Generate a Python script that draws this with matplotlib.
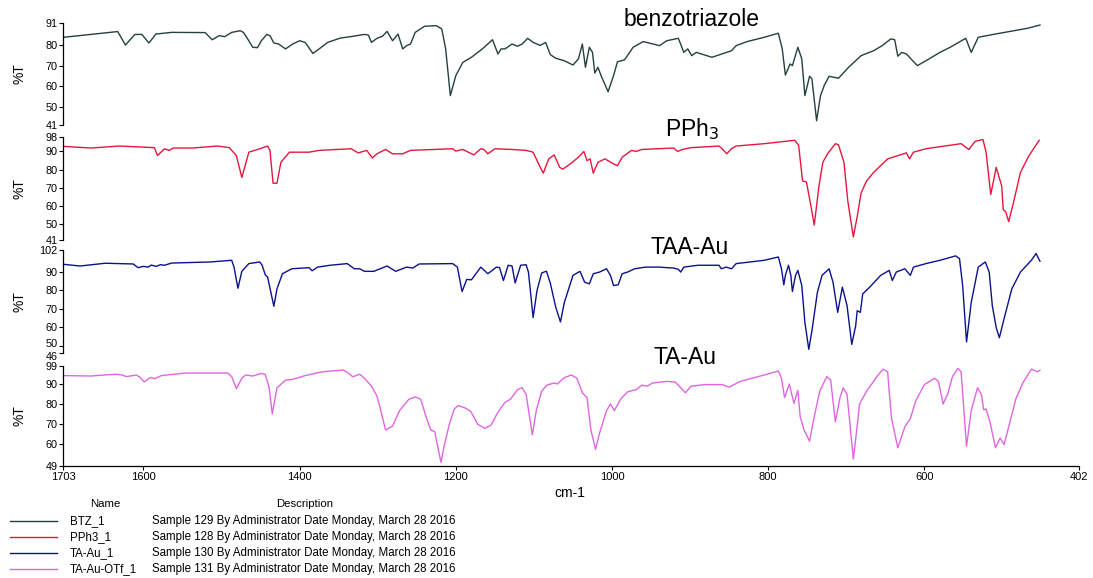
import matplotlib
matplotlib.use('Agg')
import matplotlib.pyplot as plt
import matplotlib.transforms as mtransforms
from matplotlib.lines import Line2D

plt.rcParams['font.family'] = ['Liberation Sans', 'DejaVu Sans']

# ---- data (wavenumber cm-1, %T) ----
btz_wn = [1702, 1633, 1623, 1611, 1602, 1593, 1584, 1564, 1521, 1512, 1503, 1496, 1487, 1476, 1472,
          1467, 1460, 1454, 1449, 1442, 1438, 1433, 1427, 1418, 1409, 1400, 1393, 1383, 1375, 1364,
          1348, 1335, 1317, 1312, 1308, 1301, 1294, 1288, 1281, 1274, 1268, 1263, 1258, 1252, 1240,
          1225, 1218, 1213, 1207, 1200, 1191, 1180, 1166, 1153, 1146, 1142, 1137, 1128, 1121, 1115,
          1108, 1101, 1092, 1085, 1079, 1072, 1061, 1050, 1043, 1038, 1034, 1029, 1025, 1022, 1018,
          1014, 1005, 998, 993, 984, 973, 960, 939, 930, 915, 908, 903, 898, 892, 872,
          847, 841, 827, 805, 787, 782, 778, 772, 769, 762, 757, 753, 747, 744, 738,
          733, 728, 722, 710, 697, 681, 665, 654, 643, 638, 634, 629, 623, 609, 598,
          580, 567, 547, 540, 531, 509, 486, 468, 452]
btz_t = [84.0, 86.8, 80.2, 85.4, 85.4, 81.2, 85.6, 86.4, 86.3, 82.8, 84.8, 84.3, 86.4, 87.2, 86.4,
         83.5, 79.1, 78.9, 82.3, 85.4, 84.8, 81.2, 80.7, 78.3, 80.7, 82.3, 81.5, 76.1, 78.3, 81.5,
         83.6, 84.3, 85.4, 85.1, 81.5, 83.5, 84.5, 86.9, 82.3, 85.6, 78.3, 79.9, 80.7, 86.4, 89.4,
         89.7, 88.1, 78.3, 55.4, 65.2, 71.7, 74.2, 78.3, 82.8, 75.8, 78.3, 78.3, 80.7, 79.6, 80.7,
         83.5, 81.5, 80.0, 81.5, 75.5, 73.7, 72.5, 70.4, 73.4, 80.7, 69.3, 79.1, 76.6, 66.5, 69.3,
         65.2, 57.3, 65.2, 72.0, 72.9, 79.1, 81.9, 79.9, 82.3, 83.5, 76.6, 78.3, 75.0, 76.6, 74.2,
         77.4, 79.9, 81.9, 84.0, 86.0, 78.3, 65.5, 70.9, 70.1, 79.1, 73.4, 55.4, 64.9, 63.6, 43.1,
         55.4, 60.6, 64.9, 63.9, 69.3, 75.0, 77.4, 79.9, 83.2, 82.8, 74.7, 76.6, 75.8, 70.1, 72.5,
         76.6, 79.1, 83.5, 76.6, 84.0, 85.6, 87.2, 88.4, 90.0]

pph3_wn = [1702, 1667, 1631, 1586, 1582, 1573, 1567, 1562, 1537, 1505, 1490, 1481, 1474, 1465, 1451,
           1441, 1438, 1434, 1429, 1424, 1413, 1388, 1375, 1334, 1325, 1314, 1307, 1301, 1290, 1281,
           1268, 1258, 1204, 1200, 1191, 1177, 1168, 1164, 1159, 1150, 1128, 1110, 1101, 1094, 1088,
           1081, 1074, 1067, 1063, 1052, 1043, 1036, 1032, 1028, 1024, 1018, 1009, 998, 993, 987,
           975, 969, 962, 921, 916, 910, 899, 863, 859, 853, 847, 841, 805, 766, 761,
           756, 751, 746, 741, 735, 730, 724, 714, 710, 703, 698, 691, 686, 681, 674,
           665, 647, 623, 619, 614, 598, 553, 543, 535, 525, 521, 515, 508, 501, 499,
           496, 492, 486, 477, 466, 453]
pph3_t = [92.8, 91.9, 93.0, 92.1, 87.7, 91.5, 90.6, 91.9, 91.9, 93.0, 92.1, 87.7, 75.6, 89.6, 91.5,
          93.0, 90.6, 72.4, 72.4, 84.0, 89.6, 89.6, 90.6, 91.5, 89.2, 90.6, 86.4, 88.7, 91.1, 88.7,
          88.7, 90.6, 91.5, 90.2, 91.1, 88.1, 91.5, 91.1, 88.7, 91.5, 91.1, 90.6, 89.6, 83.1, 78.0,
          85.9, 88.1, 81.2, 80.2, 83.6, 86.8, 90.0, 84.9, 85.9, 78.0, 84.0, 85.9, 83.1, 82.1, 86.8,
          90.6, 90.0, 91.1, 91.9, 90.0, 91.1, 92.1, 93.0, 91.5, 88.7, 91.5, 93.0, 94.3, 96.2, 93.4,
          73.7, 73.1, 61.5, 49.3, 70.9, 84.0, 88.7, 94.3, 93.7, 84.0, 62.4, 42.7, 54.0, 67.1, 73.7,
          78.4, 85.9, 89.2, 85.9, 89.6, 91.5, 94.3, 91.1, 95.6, 96.6, 89.6, 66.2, 81.2, 70.9, 57.7,
          56.8, 51.2, 61.5, 78.4, 87.7, 96.2]

taau_wn = [1702, 1681, 1649, 1613, 1607, 1600, 1594, 1590, 1584, 1578, 1573, 1564, 1514, 1487, 1484,
           1479, 1474, 1465, 1451, 1448, 1444, 1441, 1433, 1429, 1422, 1410, 1388, 1384, 1377, 1361,
           1339, 1330, 1323, 1317, 1305, 1288, 1277, 1263, 1255, 1247, 1204, 1198, 1192, 1186, 1180,
           1168, 1159, 1148, 1144, 1139, 1133, 1128, 1124, 1117, 1110, 1107, 1101, 1096, 1090, 1084,
           1079, 1072, 1066, 1061, 1050, 1041, 1035, 1029, 1024, 1016, 1007, 1002, 998, 992, 987,
           980, 971, 957, 939, 930, 921, 915, 912, 908, 890, 863, 860, 854, 847, 841,
           805, 787, 783, 780, 778, 774, 771, 769, 765, 762, 757, 753, 748, 744, 737,
           731, 722, 717, 711, 705, 699, 693, 688, 686, 682, 679, 670, 656, 645, 641,
           636, 625, 618, 614, 598, 580, 560, 555, 551, 546, 540, 531, 522, 517, 513,
           508, 504, 497, 488, 477, 463, 457, 452]
taau_t = [94.2, 93.3, 94.8, 94.4, 92.4, 93.1, 92.7, 93.8, 93.1, 94.0, 93.7, 94.9, 95.5, 96.4, 92.7,
          81.2, 90.4, 94.6, 95.5, 93.7, 88.5, 87.3, 71.4, 80.9, 89.1, 91.8, 92.4, 90.7, 92.7, 93.7,
          94.6, 91.8, 91.8, 90.4, 90.4, 93.3, 90.4, 92.7, 92.2, 94.4, 94.6, 92.7, 79.4, 86.0, 85.8,
          92.7, 89.1, 92.7, 92.4, 85.4, 93.7, 93.3, 84.1, 93.7, 94.0, 90.0, 65.3, 80.0, 89.5, 90.5,
          84.0, 70.8, 62.9, 73.5, 88.2, 90.4, 84.5, 83.6, 89.1, 90.0, 91.8, 88.2, 82.7, 83.1, 89.1,
          90.0, 91.8, 92.7, 92.7, 92.4, 92.2, 91.5, 90.0, 92.7, 93.7, 93.7, 91.8, 92.7, 91.8, 94.6,
          96.4, 98.2, 91.8, 83.1, 88.2, 93.7, 88.2, 79.4, 88.2, 90.9, 82.7, 62.6, 48.0, 58.0, 79.0,
          88.2, 91.8, 84.5, 68.1, 81.8, 71.7, 50.7, 60.7, 69.0, 68.1, 78.1, 81.8, 88.2, 90.9, 85.4,
          90.0, 91.8, 88.2, 92.7, 94.6, 96.4, 98.8, 97.3, 82.7, 52.0, 73.5, 92.7, 95.5, 90.0, 71.7,
          59.8, 54.3, 66.2, 80.9, 90.0, 96.4, 100.1, 95.9]

taotf_wn = [1702, 1667, 1636, 1627, 1622, 1609, 1604, 1599, 1593, 1589, 1586, 1577, 1546, 1492, 1487,
            1481, 1474, 1469, 1460, 1449, 1444, 1439, 1435, 1429, 1418, 1409, 1393, 1371, 1344, 1337,
            1332, 1323, 1317, 1308, 1301, 1296, 1290, 1281, 1272, 1260, 1252, 1245, 1238, 1232, 1227,
            1219, 1215, 1208, 1202, 1197, 1188, 1181, 1172, 1163, 1155, 1146, 1137, 1130, 1121, 1115,
            1110, 1102, 1097, 1090, 1083, 1074, 1070, 1061, 1052, 1045, 1038, 1032, 1027, 1021, 1016,
            1007, 1002, 997, 989, 980, 969, 962, 955, 948, 930, 919, 912, 906, 899, 881,
            859, 850, 836, 805, 787, 783, 779, 773, 767, 762, 759, 754, 747, 742, 734,
            725, 720, 714, 708, 704, 699, 691, 688, 683, 674, 665, 661, 653, 647, 645,
            642, 634, 625, 618, 611, 600, 587, 582, 576, 570, 564, 557, 553, 546, 540,
            532, 527, 524, 521, 516, 509, 503, 498, 492, 483, 474, 463, 455, 452]
taotf_t = [94.2, 94.0, 94.9, 94.5, 93.7, 94.5, 93.2, 91.0, 92.9, 93.2, 92.6, 94.2, 95.5, 95.5, 93.7,
           87.7, 92.9, 94.5, 94.0, 95.3, 94.8, 88.1, 75.1, 88.1, 91.9, 92.3, 94.2, 96.1, 97.0, 95.3,
           93.6, 94.9, 92.9, 88.9, 84.0, 76.7, 67.0, 69.0, 76.7, 82.4, 83.5, 82.4, 73.5, 67.0, 66.2,
           50.8, 58.9, 70.3, 77.5, 79.2, 78.0, 76.4, 69.9, 67.8, 69.4, 75.9, 80.8, 82.4, 87.2, 88.1,
           84.8, 64.6, 76.7, 86.5, 89.5, 90.5, 90.0, 93.2, 94.5, 92.9, 85.6, 83.2, 67.0, 57.3, 65.4,
           76.7, 80.0, 76.7, 82.4, 86.1, 87.2, 89.4, 88.9, 90.5, 91.3, 91.0, 88.1, 85.6, 88.9, 89.7,
           89.7, 88.4, 91.3, 94.5, 96.5, 92.9, 83.2, 90.0, 80.3, 86.8, 73.5, 67.0, 61.4, 71.9, 86.4,
           93.7, 92.1, 71.1, 83.2, 88.1, 84.8, 52.5, 62.2, 80.0, 86.4, 91.3, 93.7, 97.4, 96.1, 86.0,
           72.7, 58.1, 68.6, 72.7, 81.6, 89.7, 92.9, 91.3, 80.0, 85.2, 93.7, 97.8, 96.1, 58.9, 76.7,
           88.1, 84.8, 77.1, 77.5, 71.1, 58.1, 63.0, 59.7, 68.6, 82.4, 90.5, 97.4, 96.1, 96.9]

titles = ['benzotriazole', 'PPh$_3$', 'TAA-Au', 'TA-Au']
ylims = [(41, 91), (41, 98), (46, 102), (49, 99)]
yticks = [[41, 50, 60, 70, 80, 91],
          [41, 50, 60, 70, 80, 90, 98],
          [46, 50, 60, 70, 80, 90, 102],
          [49, 60, 70, 80, 90, 99]]
xticks = [1703, 1600, 1400, 1200, 1000, 800, 600, 402]

names = ['BTZ_1', 'PPh3_1', 'TA-Au_1', 'TA-Au-OTf_1']
descs = ['Sample 129 By Administrator Date Monday, March 28 2016',
         'Sample 128 By Administrator Date Monday, March 28 2016',
         'Sample 130 By Administrator Date Monday, March 28 2016',
         'Sample 131 By Administrator Date Monday, March 28 2016']
colors = ['#244040', '#e5173f', '#0c128c', '#e066e0']

W, H = 1093, 578
fig = plt.figure(figsize=(W / 100, H / 100), dpi=100)

# panel extents in pixels (top, bottom)
panels = [(23, 125), (137, 240), (250, 353), (366, 466)]
title_pos = [(692, 20), (692, 129), (690, 248), (685, 357)]
x0, x1 = 63, 1079

series = [(btz_wn, btz_t), (pph3_wn, pph3_t), (taau_wn, taau_t), (taotf_wn, taotf_t)]

for i, (top, bot) in enumerate(panels):
    ax = fig.add_axes([x0 / W, 1 - bot / H, (x1 - x0) / W, (bot - top) / H])
    ax.patch.set_alpha(0)
    wn, t = series[i]
    ax.plot(wn, t, color=colors[i], lw=1.0)
    ax.set_xlim(1703, 402)
    ax.set_ylim(*ylims[i])
    ax.set_yticks(yticks[i])
    ax.tick_params(axis='y', direction='out', length=3, width=0.8, labelsize=7.8, pad=1)
    for s in ['top', 'right']:
        ax.spines[s].set_visible(False)
    ax.spines['left'].set_linewidth(0.9)
    if i < 3:
        ax.spines['bottom'].set_visible(False)
        ax.set_xticks([])
    else:
        ax.spines['bottom'].set_linewidth(0.9)
        ax.set_xticks(xticks)
        ax.set_xticklabels([str(v) for v in xticks])
        ax.tick_params(axis='x', direction='out', length=3, width=0.8, labelsize=8, pad=1)
    if i == 2:
        # 46 and 50 sit very close: nudge them apart a little
        labs = ax.get_yticklabels()
        down = mtransforms.ScaledTranslation(0, -2.5 / 72, fig.dpi_scale_trans)
        up = mtransforms.ScaledTranslation(0, 2 / 72, fig.dpi_scale_trans)
        labs[0].set_transform(labs[0].get_transform() + down)
        labs[1].set_transform(labs[1].get_transform() + up)
    fig.text(19 / W, 1 - (top + bot) / 2 / H, '%T', rotation=90, ha='center', va='center', fontsize=10)
    tx, ty = title_pos[i]
    fig.text(tx / W, 1 - ty / H, titles[i], ha='center', va='center', fontsize=16.5)

fig.text(570 / W, 1 - 493 / H, 'cm-1', ha='center', va='center', fontsize=10)

# sample table under the plot
fig.text(105 / W, 1 - 504 / H, 'Name', ha='center', va='center', fontsize=8.2)
fig.text(305 / W, 1 - 504 / H, 'Description', ha='center', va='center', fontsize=8.2)
row_y = [521, 537, 553, 569]
for i in range(4):
    y = 1 - row_y[i] / H
    fig.add_artist(Line2D([10 / W, 57 / W], [y, y], color=colors[i], lw=1.0))
    fig.text(70 / W, y, names[i], ha='left', va='center', fontsize=8.3)
    fig.text(152 / W, y, descs[i], ha='left', va='center', fontsize=8.3)

fig.savefig('out.png', dpi=100)
